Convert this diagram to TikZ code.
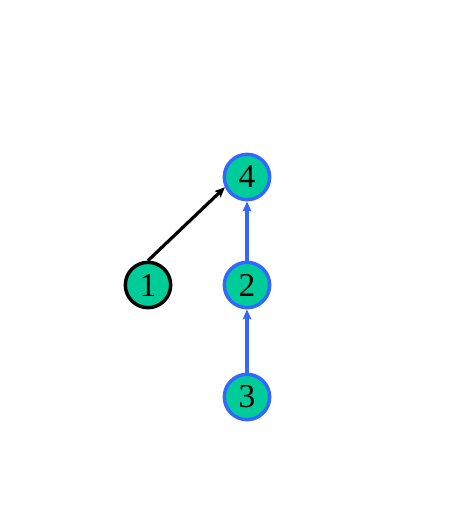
\documentclass[tikz,border=0pt]{standalone}
\usepackage{fontspec}
\setmainfont{Liberation Serif}
\usetikzlibrary{arrows.meta}
\usetikzlibrary{positioning}
\definecolor{nodegreen}{HTML}{00CC99}
\definecolor{treeblue}{HTML}{3366FF}
\tikzstyle{vertex} = [circle, minimum size=34pt, inner sep=0pt, fill=nodegreen, draw=treeblue, line width=2.6pt, font=\fontsize{25}{28}\selectfont]
\tikzstyle{root} = [vertex, draw=black]
\tikzstyle{link} = [-{Stealth[length=7.5pt,width=6.5pt,inset=1.5pt]}, line width=2.4pt]

\begin{document}
\begin{tikzpicture}[x=0.75pt, y=-0.75pt]
\useasboundingbox (0,0) rectangle (455,517);

\node (v4) [vertex] at (247,177) {4};
\node (v1) [root] at (148,285) {1};
\node (v2) [vertex] at (247,285) {2};
\node (v3) [vertex] at (247,397) {3};

\draw [link, black] (v1.north) -- (v4.205);
\draw [link, treeblue] (v2) -- (v4);
\draw [link, treeblue] (v3) -- (v2);
\end{tikzpicture}
\end{document}
